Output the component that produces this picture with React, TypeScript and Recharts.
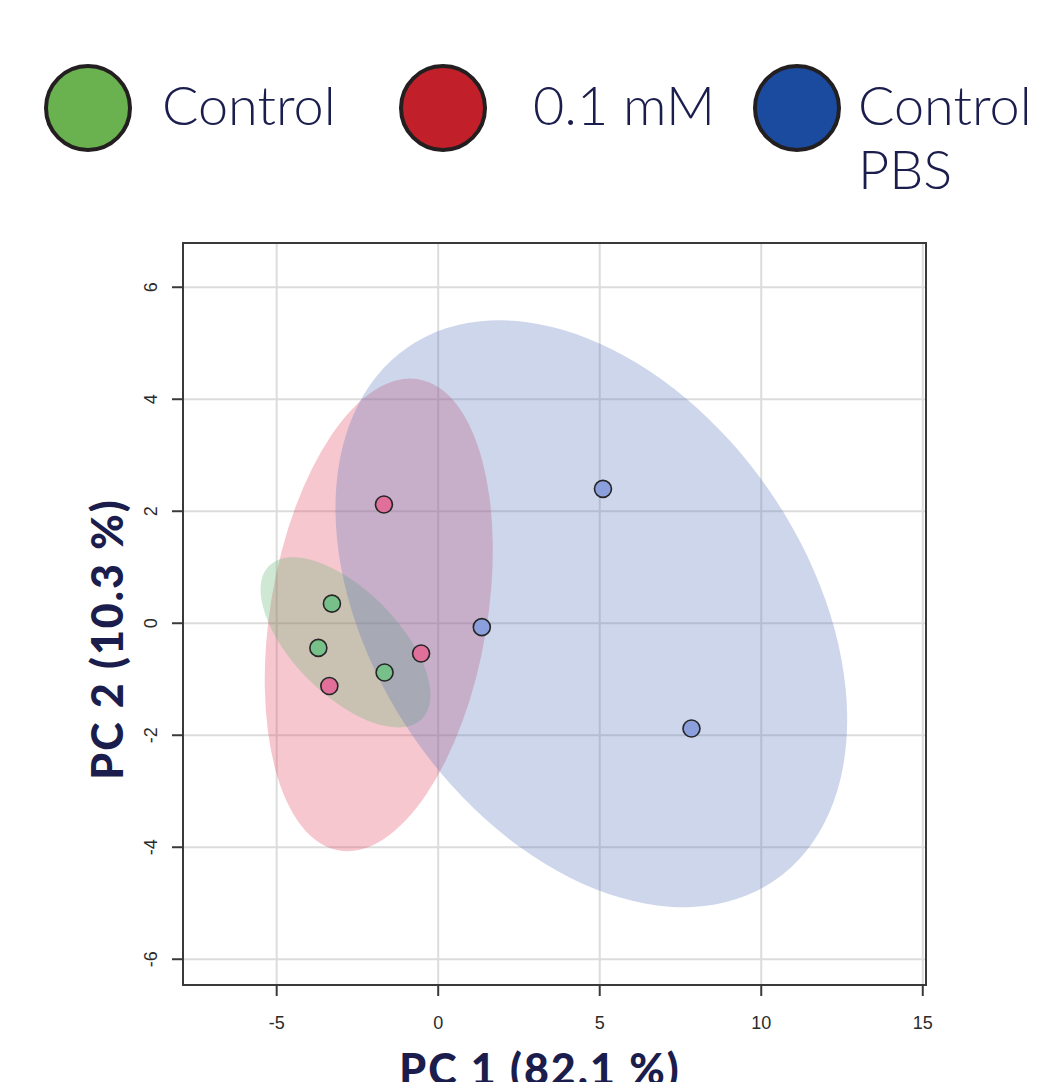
import React from 'react';
import * as Recharts from 'recharts';
import {
  ScatterChart,
  Scatter,
  XAxis,
  YAxis,
  CartesianGrid,
  ReferenceArea,
  Customized,
} from 'recharts';

// Groups and their colours
const groups = ['Control', '0.1 mM', 'Control PBS'];
const legendColors = ['#6ab150', '#c1202a', '#1a4b9f'];
const pointColors = ['#77c08a', '#e0709a', '#8b9fdc'];
const ellipseColors = ['#5fb270', '#e4445f', '#5876bc'];

// Sample scores (PC1, PC2)
const controlPC1 = [-3.29, -3.71, -1.66];
const controlPC2 = [0.35, -0.44, -0.88];
const mMPC1 = [-1.68, -0.53, -3.37];
const mMPC2 = [2.12, -0.54, -1.12];
const pbsPC1 = [5.1, 1.35, 7.84];
const pbsPC2 = [2.4, -0.07, -1.88];

// Confidence ellipses: centre, half-extent along PC1 / PC2, correlation
const ellipseCenterPC1 = [-2.87, -1.84, 4.74];
const ellipseCenterPC2 = [-0.34, 0.15, 0.17];
const ellipseHalfPC1 = [2.63, 3.53, 7.92];
const ellipseHalfPC2 = [1.52, 4.22, 5.24];
const ellipseRho = [-0.62, 0.275, -0.36];
const ellipseOrder = [1, 0, 2]; // red, green, blue

const xTicks = [-5, 0, 5, 10, 15];
const yTicks = [-6, -4, -2, 0, 2, 4, 6];
const xDomain: [number, number] = [-7.9, 15.1];
const yDomain: [number, number] = [-6.46, 6.79];

const xTitle = 'PC 1 (82.1 %)';
const yTitle = 'PC 2 (10.3 %)';

const W = 1040;
const H = 1082;
const MARGIN = { top: 243, right: 114, bottom: 0, left: 0 };
const Y_AXIS_W = 183;
const X_AXIS_H = 97;

const NAVY = '#1b1d4d';
const AXIS = '#3a3a3a';
const TICK_FONT = '"Liberation Sans", Arial, Helvetica, sans-serif';
const TITLE_FONT = 'Lato, "Open Sans", sans-serif';

const series = [
  { pc1: controlPC1, pc2: controlPC2 },
  { pc1: mMPC1, pc2: mMPC2 },
  { pc1: pbsPC1, pc2: pbsPC2 },
].map((s) => s.pc1.map((x, i) => ({ x, y: s.pc2[i] })));

const R: any = Recharts;

// scales from the chart itself when the hooks exist, else from the plot area
function useScales() {
  const plot = R.usePlotArea ? R.usePlotArea() : null;
  const xs = R.useXAxisScale ? R.useXAxisScale() : null;
  const ys = R.useYAxisScale ? R.useYAxisScale() : null;
  const area = plot || {
    x: MARGIN.left + Y_AXIS_W,
    y: MARGIN.top,
    width: W - MARGIN.left - MARGIN.right - Y_AXIS_W,
    height: H - MARGIN.top - MARGIN.bottom - X_AXIS_H,
  };
  const fx =
    xs ||
    ((v: number) => area.x + ((v - xDomain[0]) / (xDomain[1] - xDomain[0])) * area.width);
  const fy =
    ys ||
    ((v: number) => area.y + ((yDomain[1] - v) / (yDomain[1] - yDomain[0])) * area.height);
  return { fx, fy };
}

const EllipseLayer = () => {
  const { fx, fy } = useScales();
  const kx = Math.abs(fx(1) - fx(0));
  const ky = Math.abs(fy(1) - fy(0));
  return (
    <g>
      {ellipseOrder.map((g) => {
        const cx = fx(ellipseCenterPC1[g]);
        const cy = fy(ellipseCenterPC2[g]);
        const sx = ellipseHalfPC1[g] * kx;
        const sy = ellipseHalfPC2[g] * ky;
        const a = sx * sx;
        const d = sy * sy;
        const b = -ellipseRho[g] * sx * sy; // y axis is flipped on screen
        const mid = (a + d) / 2;
        const disc = Math.sqrt(((a - d) * (a - d)) / 4 + b * b);
        const rx = Math.sqrt(mid + disc);
        const ry = Math.sqrt(Math.max(mid - disc, 0));
        const theta = (0.5 * Math.atan2(2 * b, a - d) * 180) / Math.PI;
        return (
          <ellipse
            key={groups[g]}
            cx={cx}
            cy={cy}
            rx={rx}
            ry={ry}
            transform={`rotate(${theta} ${cx} ${cy})`}
            fill={ellipseColors[g]}
            fillOpacity={0.3}
            stroke="none"
          />
        );
      })}
    </g>
  );
};

const XTick = (props: any) => {
  const { x, payload } = props;
  return (
    <text
      x={x}
      y={1023}
      textAnchor="middle"
      dominantBaseline="central"
      fontFamily={TICK_FONT}
      fontSize={18}
      fill="#2b2b2b"
    >
      {payload.value}
    </text>
  );
};

const YTick = (props: any) => {
  const { y, payload } = props;
  const cx = 151;
  return (
    <text
      x={cx}
      y={y}
      transform={`rotate(-90 ${cx} ${y})`}
      textAnchor="middle"
      dominantBaseline="central"
      fontFamily={TICK_FONT}
      fontSize={18}
      fill="#2b2b2b"
    >
      {payload.value}
    </text>
  );
};

const legendCircleX = [88, 442.5, 797];
const legendTextX = [162, 533, 858];

const Legend = () => (
  <>
    {groups.map((g, i) => (
      <React.Fragment key={g}>
        <svg
          width={92}
          height={92}
          style={{ position: 'absolute', left: legendCircleX[i] - 46, top: 108 - 46 }}
        >
          <circle cx={46} cy={46} r={42} fill={legendColors[i]} stroke="#231f20" strokeWidth={4} />
        </svg>
        <div
          style={{
            position: 'absolute',
            left: legendTextX[i],
            top: 73,
            width: i === groups.length - 1 ? W - legendTextX[i] : undefined,
            whiteSpace: i === groups.length - 1 ? 'normal' : 'nowrap',
            fontFamily: TITLE_FONT,
            fontWeight: 300,
            fontSize: 54,
            lineHeight: '64px',
            color: NAVY,
          }}
        >
          {g}
        </div>
      </React.Fragment>
    ))}
  </>
);

export default function App() {
  return (
    <div
      style={{
        position: 'absolute',
        left: 0,
        top: 0,
        width: W,
        height: H,
        overflow: 'hidden',
        background: '#fff',
      }}
    >
      <Legend />
      <div style={{ position: 'absolute', left: 0, top: 0 }}>
        <ScatterChart width={W} height={H} margin={MARGIN}>
          <CartesianGrid stroke="#dcdcdc" strokeWidth={2} />
          <XAxis
            type="number"
            dataKey="x"
            domain={xDomain}
            ticks={xTicks}
            interval={0}
            allowDataOverflow
            height={X_AXIS_H}
            tickSize={11}
            tick={<XTick />}
            axisLine={{ stroke: AXIS, strokeWidth: 2 }}
            tickLine={{ stroke: AXIS, strokeWidth: 2 }}
            label={{
              content: () => (
                <text
                  x={540}
                  y={1085}
                  textAnchor="middle"
                  fontFamily={TITLE_FONT}
                  fontWeight={900}
                  fontSize={43}
                  letterSpacing={2}
                  fill={NAVY}
                >
                  {xTitle}
                </text>
              ),
            }}
          />
          <YAxis
            type="number"
            dataKey="y"
            domain={yDomain}
            ticks={yTicks}
            interval={0}
            allowDataOverflow
            width={Y_AXIS_W}
            tickSize={11}
            tick={<YTick />}
            axisLine={{ stroke: AXIS, strokeWidth: 2 }}
            tickLine={{ stroke: AXIS, strokeWidth: 2 }}
            label={{
              content: () => (
                <text
                  x={106}
                  y={639}
                  transform="rotate(-90 106 639)"
                  textAnchor="middle"
                  dominantBaseline="central"
                  fontFamily={TITLE_FONT}
                  fontWeight={900}
                  fontSize={43}
                  letterSpacing={2}
                  fill={NAVY}
                >
                  {yTitle}
                </text>
              ),
            }}
          />
          <Customized component={EllipseLayer} />
          {groups.map((g, i) => (
            <Scatter
              key={g}
              name={g}
              data={series[i]}
              isAnimationActive={false}
              shape={(p: any) => (
                <circle
                  cx={p.cx}
                  cy={p.cy}
                  r={8.5}
                  fill={pointColors[i]}
                  stroke="#262626"
                  strokeWidth={1.6}
                />
              )}
            />
          ))}
          <ReferenceArea
            x1={xDomain[0]}
            x2={xDomain[1]}
            y1={yDomain[0]}
            y2={yDomain[1]}
            fill="none"
            fillOpacity={0}
            stroke={AXIS}
            strokeWidth={2}
            ifOverflow="visible"
          />
        </ScatterChart>
      </div>
    </div>
  );
}
